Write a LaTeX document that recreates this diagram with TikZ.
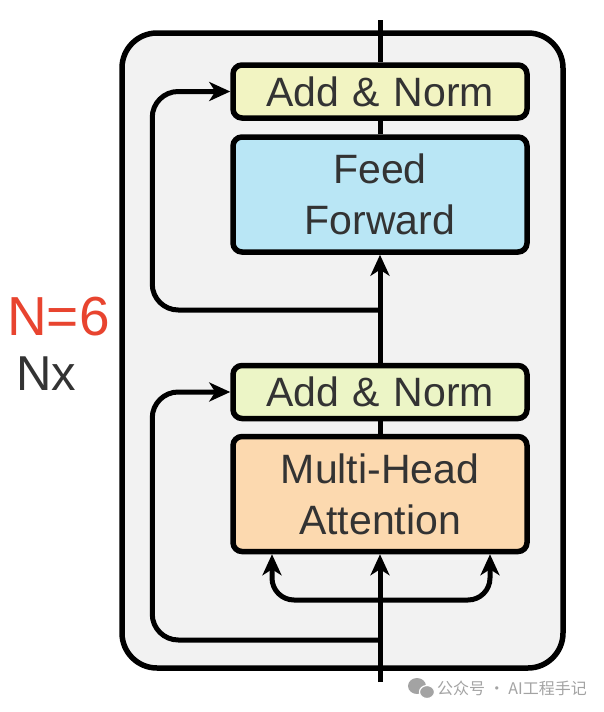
\documentclass[tikz,border=0pt]{standalone}
\usepackage{fontspec}
\setmainfont{Liberation Sans}
\newfontfamily\cjk{Noto Sans CJK SC}
\usetikzlibrary{arrows.meta, calc, positioning}
\definecolor{layergray}{HTML}{F2F2F2}
\definecolor{normtop}{HTML}{F2F4C2}
\definecolor{normlow}{HTML}{ECF5C6}
\definecolor{ffblue}{HTML}{B9E6F5}
\definecolor{mhaorange}{HTML}{FCD9AF}
\definecolor{nred}{HTML}{E8442F}
\definecolor{txtgray}{HTML}{333333}
\definecolor{wmgray}{HTML}{A3A3A3}
\tikzstyle{blk}=[draw, line width=5.5pt, rounded corners=9pt,
    minimum width=294pt, text width=290pt, align=center, inner sep=0pt,
    text=txtgray, font=\fontsize{41}{51}\selectfont]
\tikzstyle{norm}=[blk, minimum height=53pt]
\tikzstyle{sub}=[blk, minimum height=115pt]
\tikzstyle{wire}=[line width=5pt]
\tikzstyle{arr}=[wire, -{Stealth[length=21pt, width=19pt, inset=6pt]}]
\def\skipdist{78}

\begin{document}
\begin{tikzpicture}[x=1pt, y=-1pt]
    \useasboundingbox (0,0) rectangle (603,712);
    \node (layer) [draw, line width=5.5pt, rounded corners=35pt, fill=layergray,
    inner sep=0pt, minimum width=441pt, minimum height=635pt] at (342.5,350.5) {};
    \node (mha) [sub, fill=mhaorange] at (380,494) {Multi-Head\\Attention};
    \path (mha.center)+(0,-102) node (an1) [norm, fill=normlow] {Add \& Norm};
    \path (an1.center)+(0,-197.5) node (ff) [sub, fill=ffblue] {Feed\\Forward};
    \path (ff.center)+(0,-103) node (an2) [norm, fill=normtop] {Add \& Norm};
    \node (nsix) [anchor=base west, text=nred, inner sep=0pt,
    font=\fontsize{55}{55}\selectfont] at (7,335) {N=6};
    \node (nx) [anchor=base west, text=txtgray, inner sep=0pt,
    font=\fontsize{49}{49}\selectfont] at (16,390) {Nx};
    \coordinate (in) at (380,682);
    \coordinate (out) at (380,20);
    \coordinate (fork) at (380,600);
    \coordinate (res1) at (380,640);
    \coordinate (res2) at (380,310);
    \draw[arr] (in) -- (mha);
    \draw[arr, rounded corners=22pt] (fork) -| ([xshift=-108pt]mha.south);
    \draw[arr, rounded corners=22pt] (fork) -| ([xshift=110pt]mha.south);
    \draw[wire] (mha) -- (an1);
    \draw[arr, rounded corners=26pt] (res1) -| ([xshift=-\skipdist pt]an1.west) -- (an1.west);
    \draw[arr] (an1) -- (ff);
    \draw[arr, rounded corners=26pt] (res2) -| ([xshift=-\skipdist pt]an2.west) -- (an2.west);
    \draw[wire] (ff) -- (an2);
    \draw[wire] (an2) -- (out);
    % watermark
    \fill[wmgray] (417,686) ellipse (9pt and 8pt);
    \draw[white, line width=1.2pt, fill=wmgray] (427,692) ellipse (7.5pt and 6.5pt);
    \node (mark) [anchor=west, text=wmgray, inner sep=0pt,
    font=\cjk\fontsize{16}{16}\selectfont] at (437,688) {公众号 · AI工程手记};
\end{tikzpicture}
\end{document}
